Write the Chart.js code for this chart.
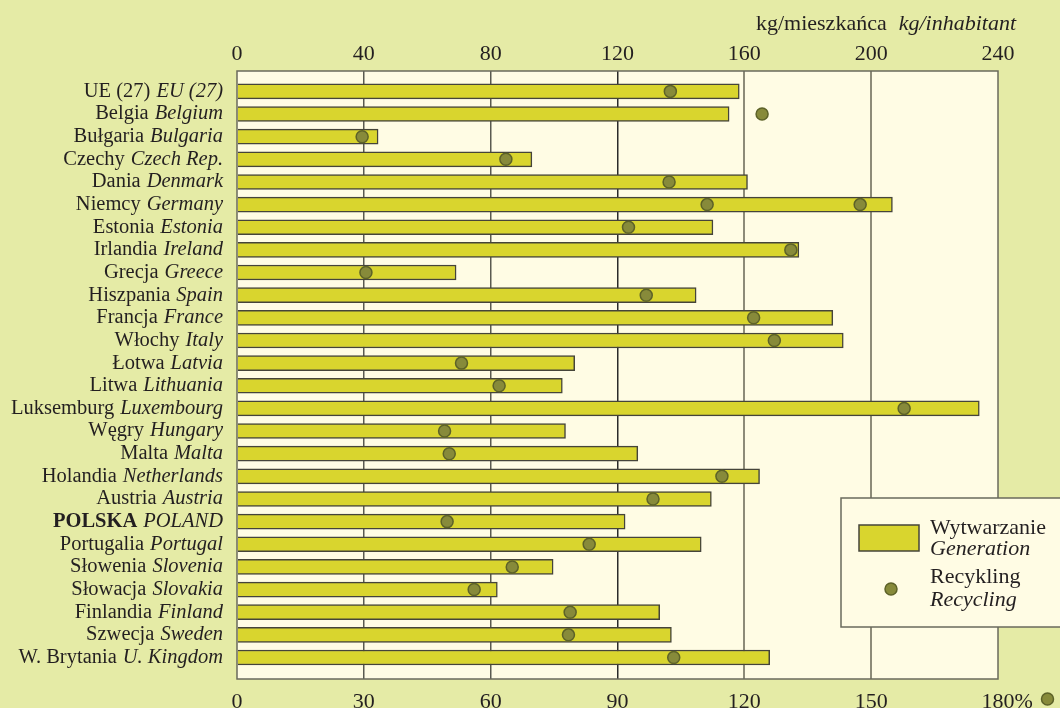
<!DOCTYPE html>
<html>
<head>
<meta charset="utf-8">
<title>Wytwarzanie i recykling</title>
<script src="https://cdn.jsdelivr.net/npm/chart.js@4/dist/chart.umd.min.js"></script>
<style>
  html, body { margin: 0; padding: 0; background: #e5eba6; }
  canvas { display: block; }
</style>
</head>
<body>
<canvas id="chart" width="1060" height="708"></canvas>
<script>
// Country names: Polish (upright) and English (italic)
const countriesPl = ['UE (27)', 'Belgia', 'Bułgaria', 'Czechy', 'Dania', 'Niemcy', 'Estonia', 'Irlandia',
    'Grecja', 'Hiszpania', 'Francja', 'Włochy', 'Łotwa', 'Litwa', 'Luksemburg', 'Węgry', 'Malta',
    'Holandia', 'Austria', 'POLSKA', 'Portugalia', 'Słowenia', 'Słowacja', 'Finlandia', 'Szwecja', 'W. Brytania'];
const countriesEn = ['EU (27)', 'Belgium', 'Bulgaria', 'Czech Rep.', 'Denmark', 'Germany', 'Estonia', 'Ireland',
    'Greece', 'Spain', 'France', 'Italy', 'Latvia', 'Lithuania', 'Luxembourg', 'Hungary', 'Malta',
    'Netherlands', 'Austria', 'POLAND', 'Portugal', 'Slovenia', 'Slovakia', 'Finland', 'Sweden', 'U. Kingdom'];

// Generation, kg per inhabitant (top axis)
const generation = [158.4, 155.2, 44.5, 93.0, 161.0, 206.7, 150.1, 177.2, 69.1, 144.8, 187.9, 191.2, 106.5,
    102.6, 234.1, 103.6, 126.4, 164.8, 149.6, 122.4, 146.4, 99.7, 82.1, 133.3, 137.0, 168.0];

// Recycling, % (bottom axis)
const recycling = [102.5, 124.2, 29.6, 63.6, 102.2, 111.2, 92.6, 131.0, 30.5, 96.8, 122.2, 127.1, 53.1,
    62.0, 157.8, 49.1, 50.2, 114.7, 98.4, 49.7, 83.3, 65.1, 56.1, 78.8, 78.4, 103.3];
// second recycling mark (only Germany has one)
const recyclingSecond = [null, null, null, null, null, 147.4, null, null, null, null, null, null, null,
    null, null, null, null, null, null, null, null, null, null, null, null, null];

const kgTicks = [0, 40, 80, 120, 160, 200, 240];
const pctTicks = [0, 30, 60, 90, 120, 150, 180];

const FONT = '"Liberation Serif", "Times New Roman", serif';
const TEXT = '#231f20';
const BAR_FILL = '#d9d52e';
const BAR_EDGE = '#45443a';
const DOT_FILL = '#878a3a';
const DOT_EDGE = '#5d6228';
const PLOT_BG = '#fffce4';
const PAGE_BG = '#e5eba6';

// background of page and plot area
const backgroundPlugin = {
    id: 'background',
    beforeDraw(chart) {
        const ctx = chart.ctx;
        const a = chart.chartArea;
        ctx.save();
        ctx.fillStyle = PAGE_BG;
        ctx.fillRect(0, 0, chart.width, chart.height);
        ctx.fillStyle = PLOT_BG;
        ctx.fillRect(a.left, a.top, a.right - a.left, a.bottom - a.top);
        ctx.restore();
    }
};

// country labels with mixed upright / italic text, frame, title and legend
const decorPlugin = {
    id: 'decor',
    afterDraw(chart) {
        const ctx = chart.ctx;
        const a = chart.chartArea;
        const yScale = chart.scales.y;
        const pctScale = chart.scales.x2;
        ctx.save();

        // frame of the plot
        ctx.strokeStyle = '#6a6a5c';
        ctx.lineWidth = 1.5;
        ctx.strokeRect(a.left, a.top, a.right - a.left, a.bottom - a.top);

        // country labels
        ctx.fillStyle = TEXT;
        ctx.textBaseline = 'middle';
        ctx.textAlign = 'right';
        const xRight = a.left - 14;
        countriesPl.forEach((pl, i) => {
            const y = yScale.getPixelForValue(i);
            const bold = pl === 'POLSKA' ? 'bold ' : '';
            ctx.font = 'italic 20.5px ' + FONT;
            const en = countriesEn[i];
            const enWidth = ctx.measureText(en).width;
            ctx.fillText(en, xRight, y);
            ctx.font = bold + '20.5px ' + FONT;
            ctx.fillText(pl, xRight - enWidth - 6, y);
        });

        // top axis title
        ctx.textBaseline = 'alphabetic';
        ctx.font = 'italic 22px ' + FONT;
        const titleEn = 'kg/inhabitant';
        const titleEnW = ctx.measureText(titleEn).width;
        ctx.fillText(titleEn, 1016, 30);
        ctx.font = '22px ' + FONT;
        ctx.fillText('kg/mieszkańca', 1016 - titleEnW - 12, 30);

        // "%" and dot after the last bottom tick
        ctx.font = '22px ' + FONT;
        ctx.textAlign = 'left';
        ctx.textBaseline = 'alphabetic';
        const last = pctTicks[pctTicks.length - 1];
        const lastX = pctScale.getPixelForValue(last) + ctx.measureText(String(last)).width / 2;
        ctx.fillText('%', lastX, 708);
        drawDot(ctx, lastX + 33, 699);

        // legend box
        ctx.fillStyle = PLOT_BG;
        ctx.strokeStyle = '#6a6a5c';
        ctx.lineWidth = 1.5;
        ctx.fillRect(841, 498, 240, 129);
        ctx.strokeRect(841, 498, 240, 129);
        ctx.fillStyle = BAR_FILL;
        ctx.strokeStyle = BAR_EDGE;
        ctx.fillRect(859, 525, 60, 26);
        ctx.strokeRect(859, 525, 60, 26);
        drawDot(ctx, 891, 589);
        ctx.fillStyle = TEXT;
        ctx.textAlign = 'left';
        ctx.font = '22px ' + FONT;
        ctx.fillText('Wytwarzanie', 930, 534);
        ctx.fillText('Recykling', 930, 583);
        ctx.font = 'italic 22px ' + FONT;
        ctx.fillText('Generation', 930, 555);
        ctx.fillText('Recycling', 930, 606);

        ctx.restore();
    }
};

function drawDot(ctx, x, y) {
    ctx.beginPath();
    ctx.arc(x, y, 6, 0, Math.PI * 2);
    ctx.fillStyle = DOT_FILL;
    ctx.fill();
    ctx.lineWidth = 1.5;
    ctx.strokeStyle = DOT_EDGE;
    ctx.stroke();
}

function gridColor(ctx) {
    const v = ctx.tick ? ctx.tick.value : null;
    if (v === 0 || v === 240) return 'rgba(0,0,0,0)';
    if (v === 120) return '#2b2b2b';
    if (v >= 160) return '#8d8b78';
    return '#5a5a50';
}

const barData = generation.map((v, i) => ({ x: v, y: i }));
const dotData = recycling.map((v, i) => ({ x: v, y: i }))
    .concat(recyclingSecond.map((v, i) => ({ x: v, y: i })).filter(p => p.x !== null));

new Chart(document.getElementById('chart').getContext('2d'), {
    type: 'bar',
    data: {
        datasets: [
            {
                type: 'scatter',
                label: 'Recykling',
                data: dotData,
                xAxisID: 'x2',
                yAxisID: 'y',
                pointRadius: 6,
                pointBackgroundColor: DOT_FILL,
                pointBorderColor: DOT_EDGE,
                pointBorderWidth: 1.5,
                showLine: false,
                order: 0
            },
            {
                type: 'bar',
                label: 'Wytwarzanie',
                data: barData,
                xAxisID: 'x',
                yAxisID: 'y',
                backgroundColor: BAR_FILL,
                borderColor: BAR_EDGE,
                borderWidth: 1.5,
                barThickness: 15,
                order: 1
            }
        ]
    },
    options: {
        indexAxis: 'y',
        responsive: false,
        devicePixelRatio: 1,
        animation: false,
        layout: { padding: { left: 237, right: 62, top: 0, bottom: 0 } },
        plugins: {
            legend: { display: false },
            tooltip: { enabled: false }
        },
        scales: {
            x: {
                type: 'linear',
                position: 'top',
                offset: false,
                min: 0,
                max: 240,
                afterBuildTicks: scale => { scale.ticks = kgTicks.map(v => ({ value: v })); },
                afterFit: scale => { scale.height = 71; },
                grid: { color: gridColor, lineWidth: ctx => (ctx.tick && ctx.tick.value >= 160 ? 2 : 1.5), drawTicks: false, offset: false },
                border: { display: false },
                ticks: { color: TEXT, font: { family: FONT, size: 22 }, padding: 4, maxRotation: 0 }
            },
            x2: {
                type: 'linear',
                position: 'bottom',
                offset: false,
                min: 0,
                max: 180,
                afterBuildTicks: scale => { scale.ticks = pctTicks.map(v => ({ value: v })); },
                afterFit: scale => { scale.height = 29; },
                grid: { display: false, drawTicks: false, offset: false },
                border: { display: false },
                ticks: { color: TEXT, font: { family: FONT, size: 22 }, padding: 10, maxRotation: 0 }
            },
            y: {
                type: 'linear',
                reverse: true,
                offset: false,
                grid: { offset: false },
                min: -0.9,
                max: 25.95,
                display: false
            }
        }
    },
    plugins: [backgroundPlugin, decorPlugin]
});
</script>
</body>
</html>
